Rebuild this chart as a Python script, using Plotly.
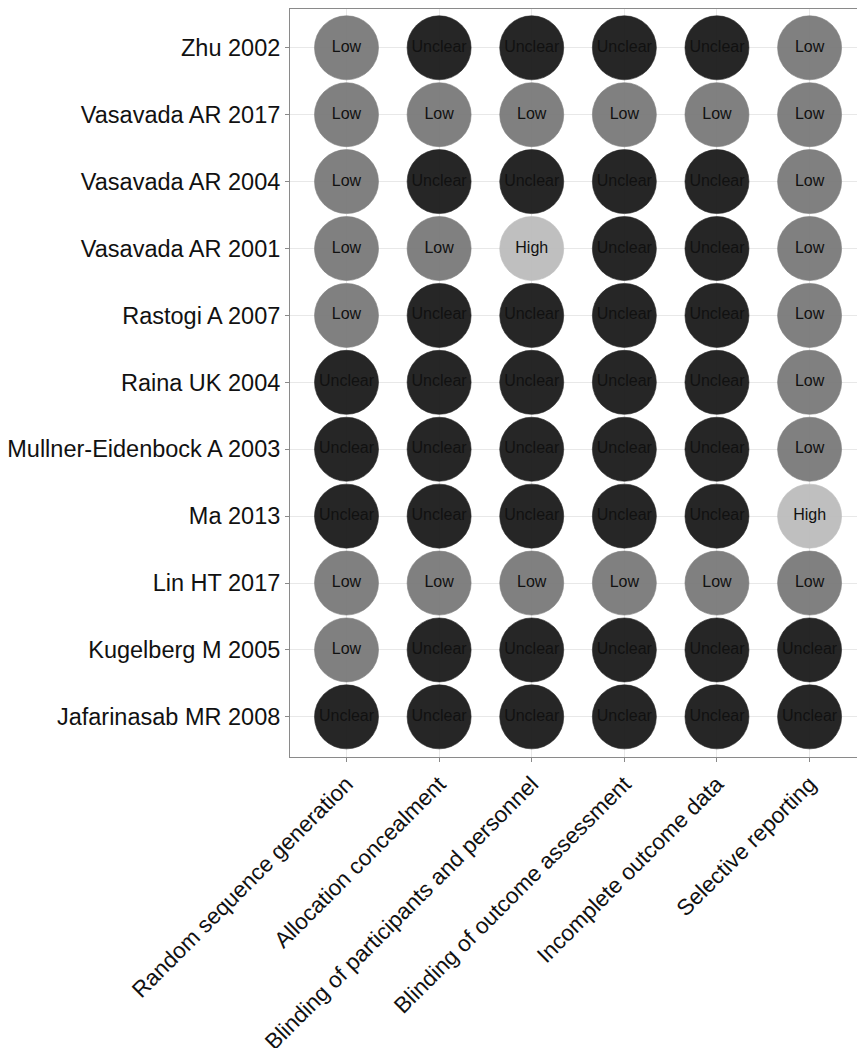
import plotly.graph_objects as go

studies = ["Zhu 2002", "Vasavada AR 2017", "Vasavada AR 2004", "Vasavada AR 2001",
           "Rastogi A 2007", "Raina UK 2004", "Mullner-Eidenbock A 2003", "Ma 2013",
           "Lin HT 2017", "Kugelberg M 2005", "Jafarinasab MR 2008"]
domains = ["Random sequence generation", "Allocation concealment",
           "Blinding of participants and personnel", "Blinding of outcome assessment",
           "Incomplete outcome data", "Selective reporting"]
judgements = [
    ["Low", "Unclear", "Unclear", "Unclear", "Unclear", "Low"],
    ["Low", "Low", "Low", "Low", "Low", "Low"],
    ["Low", "Unclear", "Unclear", "Unclear", "Unclear", "Low"],
    ["Low", "Low", "High", "Unclear", "Unclear", "Low"],
    ["Low", "Unclear", "Unclear", "Unclear", "Unclear", "Low"],
    ["Unclear", "Unclear", "Unclear", "Unclear", "Unclear", "Low"],
    ["Unclear", "Unclear", "Unclear", "Unclear", "Unclear", "Low"],
    ["Unclear", "Unclear", "Unclear", "Unclear", "Unclear", "High"],
    ["Low", "Low", "Low", "Low", "Low", "Low"],
    ["Low", "Unclear", "Unclear", "Unclear", "Unclear", "Unclear"],
    ["Unclear", "Unclear", "Unclear", "Unclear", "Unclear", "Unclear"],
]
levels = ["Low", "Unclear", "High"]
level_colors = {"Low": "#7b7b7b", "Unclear": "#1e1e1e", "High": "#bdbdbd"}

fig = go.Figure()
for lev in levels:
    xs, ys = [], []
    for s, row in zip(studies, judgements):
        for d, j in zip(domains, row):
            if j == lev:
                xs.append(d)
                ys.append(s)
    fig.add_trace(go.Scatter(
        x=xs, y=ys, mode="markers+text", text=[lev] * len(xs),
        textposition="middle center",
        textfont=dict(family="Liberation Sans, Arial, sans-serif", size=16, color="#111111"),
        marker=dict(size=64, color=level_colors[lev], opacity=0.96,
                    line=dict(width=0.6, color=level_colors[lev])),
        showlegend=False, hoverinfo="skip", cliponaxis=False,
    ))

x_font = dict(family="Liberation Sans, Arial, sans-serif", size=22.5, color="#111111")
y_font = dict(family="Liberation Sans, Arial, sans-serif", size=23.5, color="#111111")
fig.update_layout(
    width=857, height=1048,
    margin=dict(l=290, r=0, t=9, b=291),
    plot_bgcolor="white", paper_bgcolor="white",
    xaxis=dict(type="category", categoryorder="array", categoryarray=domains,
               range=[-0.61, 5.512], tickangle=-45, tickfont=x_font, automargin=False,
               showgrid=True, gridcolor="#e8e8e8", gridwidth=1,
               showline=True, linecolor="#8a8a8a", linewidth=1, mirror=True,
               ticks="outside", ticklen=4, tickcolor="#8a8a8a", zeroline=False),
    yaxis=dict(type="category", categoryorder="array", categoryarray=studies[::-1],
               range=[-0.6, 10.58], tickfont=y_font, automargin=False,
               showgrid=True, gridcolor="#e8e8e8", gridwidth=1,
               showline=True, linecolor="#8a8a8a", linewidth=1,
               ticks="outside", ticklen=4, tickcolor="#8a8a8a", zeroline=False),
)
fig.write_html("out.html")
